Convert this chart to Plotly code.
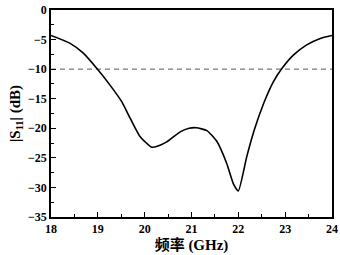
import plotly.graph_objects as go

freq = [18.0, 18.4, 18.69, 18.98, 19.26, 19.51, 19.69, 19.9, 20.15, 20.3, 20.47, 20.62, 20.76,
        20.95, 21.1, 21.33, 21.54, 21.75, 21.9, 22.0, 22.18, 22.34, 22.54, 22.75, 22.93,
        23.18, 23.46, 23.75, 24.0]
s11 = [-4.3, -5.6, -7.3, -9.9, -12.7, -15.5, -18.3, -21.4, -23.2, -22.95, -22.3, -21.4, -20.6,
       -20.0, -19.9, -20.4, -22.2, -25.9, -29.5, -30.6, -24.8, -20.3, -15.8, -12.1, -9.9,
       -7.6, -5.9, -4.8, -4.3]
ref_x = [18, 24]
ref_y = [-10, -10]
x_ticks = [18, 19, 20, 21, 22, 23, 24]
y_ticks = [0, -5, -10, -15, -20, -25, -30, -35]

serif = "Liberation Serif, Times New Roman, Noto Sans CJK SC, serif"

fig = go.Figure()
fig.add_trace(go.Scatter(x=ref_x, y=ref_y, mode="lines",
                         line=dict(color="#555555", width=1, dash="5px,4px"),
                         showlegend=False, hoverinfo="skip"))
fig.add_trace(go.Scatter(x=freq, y=s11, mode="lines",
                         line=dict(color="black", width=1.6, shape="spline", smoothing=0.5),
                         showlegend=False))

axis_common = dict(showline=True, linecolor="black", linewidth=1.5, mirror=True,
                   ticks="inside", ticklen=5, tickwidth=1.2, tickcolor="black",
                   showgrid=False, zeroline=False, automargin=False,
                   tickfont=dict(family=serif, size=12, color="black", weight="bold"))

fig.update_layout(
    width=340, height=255,
    margin=dict(l=51, r=8, t=10, b=38),
    paper_bgcolor="white", plot_bgcolor="white",
    xaxis=dict(range=[18, 24], tickvals=x_ticks,
               minor=dict(ticks="inside", ticklen=3, tickcolor="black", dtick=0.5, tick0=18),
               title=dict(text="频率 (GHz)", standoff=0,
                          font=dict(family=serif, size=15, color="black", weight="bold")),
               **axis_common),
    yaxis=dict(range=[-35, 0], tickvals=y_ticks,
               minor=dict(ticks="inside", ticklen=3, tickcolor="black", dtick=2.5, tick0=0),
               title=dict(text="|S<sub>11</sub>| (dB)", standoff=4,
                          font=dict(family=serif, size=15, color="black", weight="bold")),
               **axis_common),
)

fig.write_html("out.html", config={"displayModeBar": False},
               post_script="document.body.style.margin='0';document.body.style.overflow='hidden';")
